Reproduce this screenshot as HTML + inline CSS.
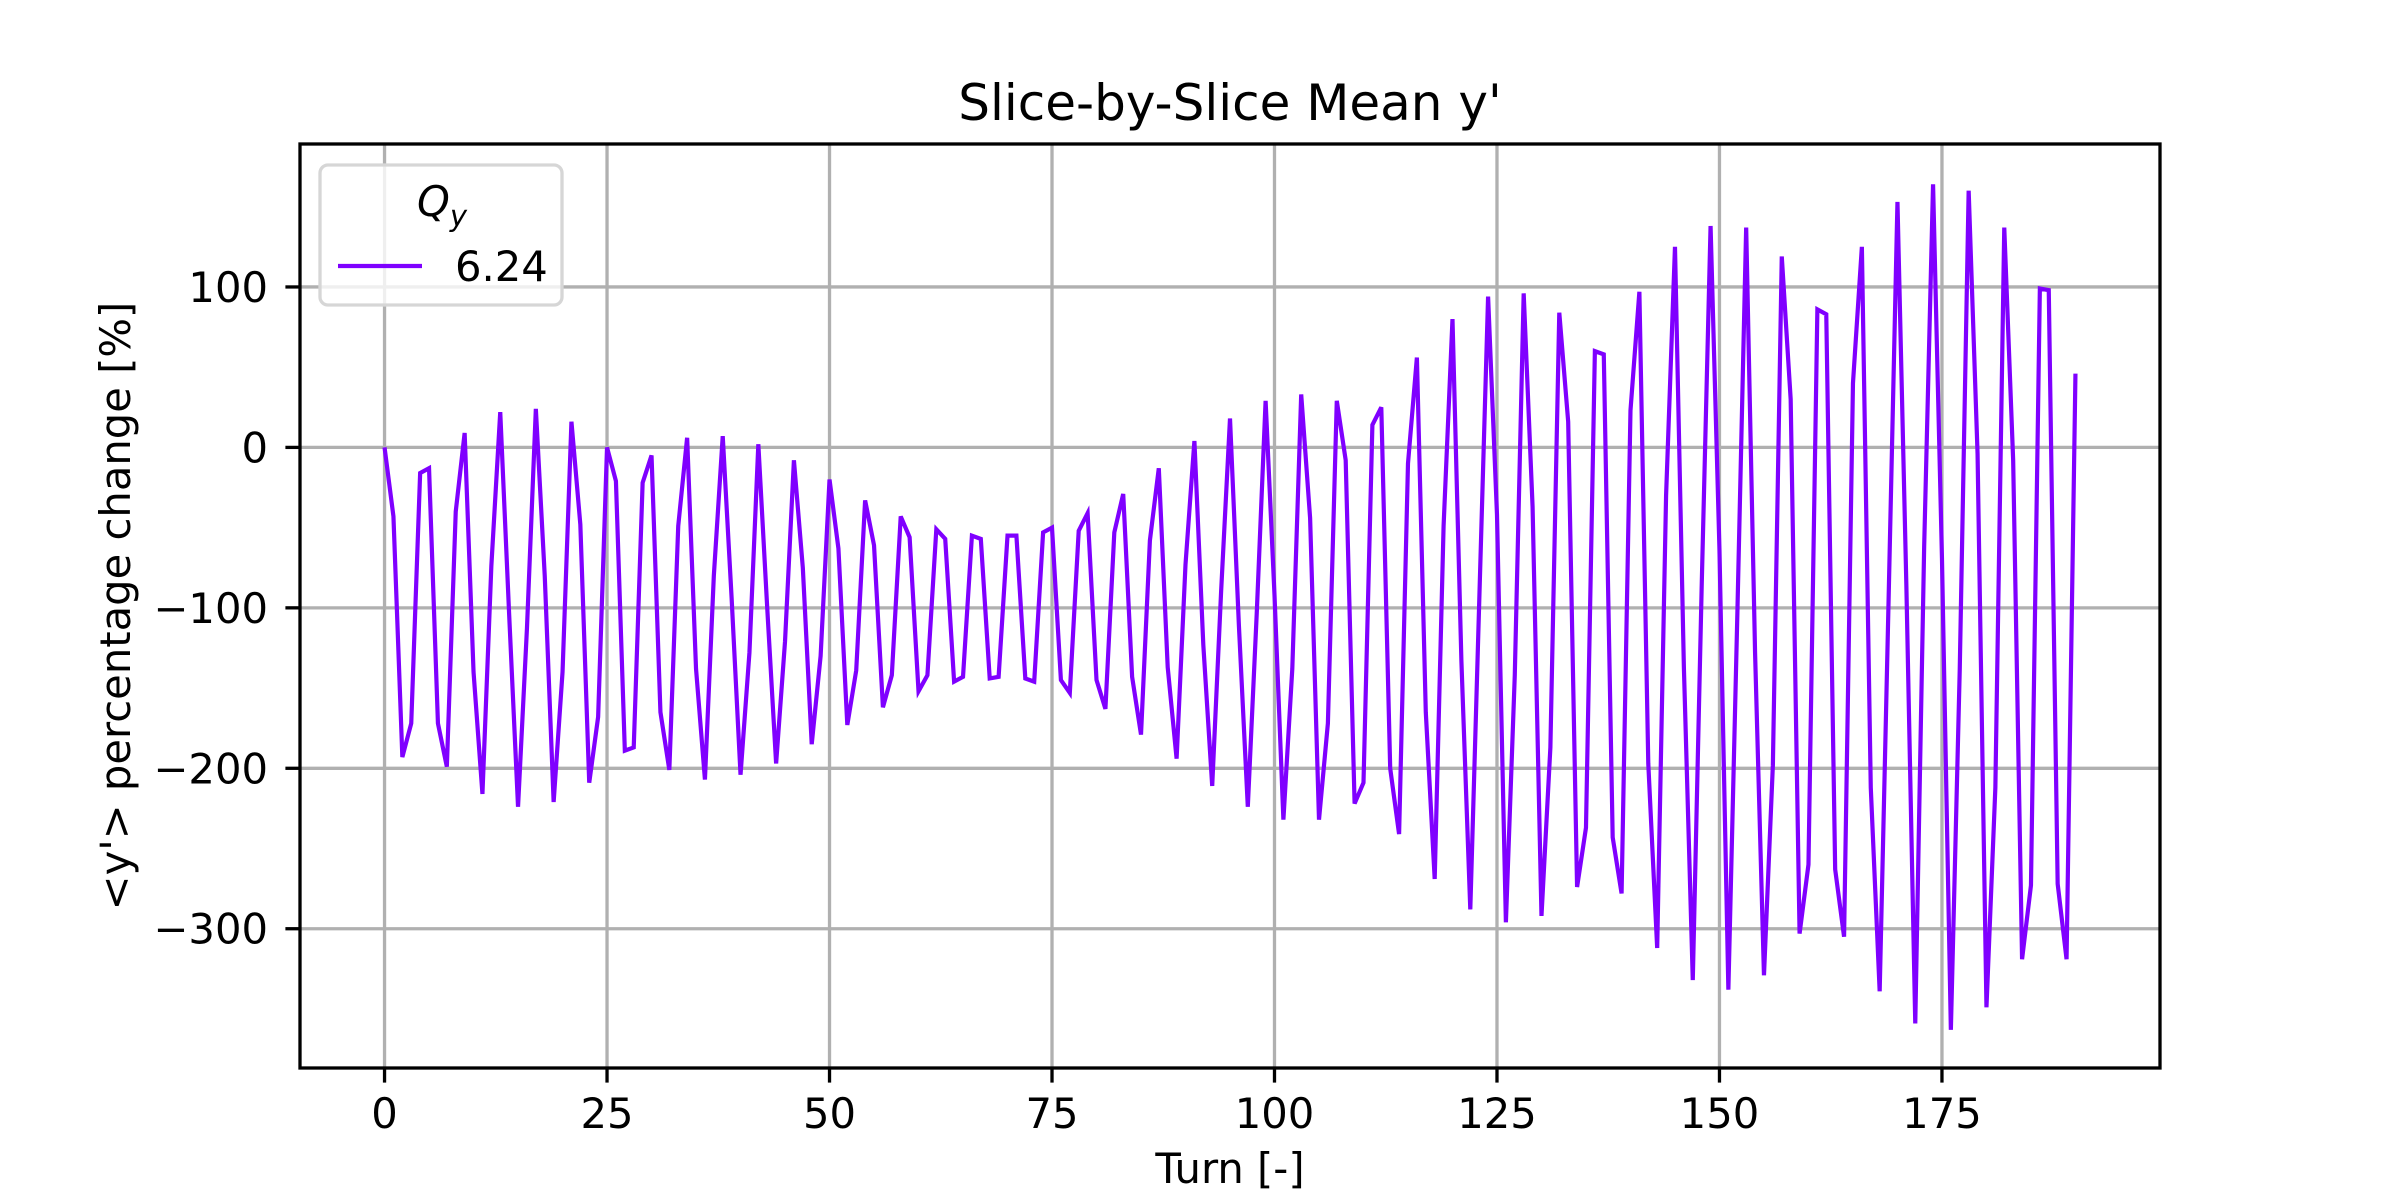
<!DOCTYPE html>
<html><head><meta charset="utf-8">
<style>
html,body{margin:0;padding:0;background:#fff;}
svg{display:block;font-family:"DejaVu Sans","Liberation Sans",sans-serif;}
</style></head>
<body>
<svg id="chart" width="2400" height="1200" viewBox="0 0 2400 1200" xmlns="http://www.w3.org/2000/svg">
<rect x="0" y="0" width="2400" height="1200" fill="#fff"/>
<g id="grid"></g>
<g id="series"></g>
<rect x="300" y="144" width="1860" height="924" fill="none" stroke="#000" stroke-width="3.3"/>
<g id="ticks"></g>
<text x="1230" y="120" font-size="50" text-anchor="middle">Slice-by-Slice Mean y'</text>
<text x="1230" y="1183" font-size="41.7" text-anchor="middle">Turn [-]</text>
<text x="130" y="606" font-size="41.7" text-anchor="middle" transform="rotate(-90 130 606)">&lt;y'&gt; percentage change [%]</text>
<g>
<rect x="320" y="165" width="242" height="140" rx="8" fill="#fff" fill-opacity="0.8" stroke="#d6d6d6" stroke-width="3.3"/>
<text x="442" y="216" font-size="41.7" text-anchor="middle" font-style="italic">Q<tspan font-size="29" dy="10">y</tspan></text>
<line x1="338" y1="266" x2="422" y2="266" stroke="#7f00ff" stroke-width="4.2"/>
<text x="455" y="281" font-size="41.7">6.24</text>
</g>
</svg>
<script>
const turns = [];
const values = [0,-43,-193,-172,-16,-13,-172,-199,-40,9,-140,-216,-74,22,-104,-224,-113,24,-80,-221,-140,16,-48,-209,-168,0,-21,-189,-187,-22,-5,-165,-201,-49,6,-138,-207,-80,7,-94,-204,-128,2,-100,-197,-121,-8,-75,-185,-130,-20,-63,-173,-139,-33,-61,-162,-142,-43,-56,-152,-142,-51,-57,-146,-143,-55,-57,-144,-143,-55,-55,-144,-146,-53,-50,-145,-153,-52,-41,-145,-163,-53,-29,-143,-179,-58,-13,-137,-194,-73,4,-123,-211,-90,18,-111,-224,-104,29,-92,-232,-138,33,-44,-232,-172,29,-8,-222,-209,14,25,-200,-241,-10,56,-165,-269,-49,80,-133,-288,-97,94,-42,-296,-142,96,-37,-292,-187,84,16,-274,-237,60,58,-243,-278,23,97,-197,-312,-30,125,-137,-332,-87,138,-64,-338,-106,137,-128,-329,-198,119,30,-303,-260,86,83,-263,-305,40,125,-212,-339,-96,153,-86,-359,-62,164,-69,-363,-138,160,-4,-349,-212,137,-8,-319,-273,99,98,-272,-319,46];
for (let i = 0; i < values.length; i++) turns.push(i);
const xTicks = [0,25,50,75,100,125,150,175];
const yTicks = [-300,-200,-100,0,100];
const yTickLabels = ["\u2212300","\u2212200","\u2212100","0","100"];

const L=300,R=2160,T=144,B=1068;
const xMin=-9.5,xMax=199.5,yMin=-386.8,yMax=189.1;
function sx(v){return L+(v-xMin)/(xMax-xMin)*(R-L);}
function sy(v){return B-(v-yMin)/(yMax-yMin)*(B-T);}
const NS="http://www.w3.org/2000/svg";
function mk(tag,attrs,parent){const e=document.createElementNS(NS,tag);for(const k in attrs)e.setAttribute(k,attrs[k]);parent.appendChild(e);return e;}
const grid=document.getElementById('grid'),ticks=document.getElementById('ticks'),series=document.getElementById('series');
xTicks.forEach(t=>{
  const x=sx(t);
  const g=mk('line',{x1:x,y1:T,x2:x,y2:B,stroke:'#b0b0b0','stroke-width':3.3},grid);
  
  
  const tk=mk('line',{x1:x,y1:B,x2:x,y2:B+14.6,stroke:'#000','stroke-width':3.3},ticks);
  
  
  const lb=mk('text',{x:x,y:B+60,'font-size':41.7,'text-anchor':'middle'},ticks);
  lb.textContent=String(t);
  
  
});
yTicks.forEach((t,i)=>{
  const y=sy(t);
  const g=mk('line',{x1:L,y1:y,x2:R,y2:y,stroke:'#b0b0b0','stroke-width':3.3},grid);
  
  
  const tk=mk('line',{x1:L-14.6,y1:y,x2:L,y2:y,stroke:'#000','stroke-width':3.3},ticks);
  
  
  const lb=mk('text',{x:268,y:y+15,'font-size':41.7,'text-anchor':'end'},ticks);
  lb.textContent=yTickLabels[i];
  
  
});
const pts=turns.map((t,i)=>sx(t).toFixed(2)+','+sy(values[i]).toFixed(2)).join(' ');
const pl=mk('polyline',{points:pts,fill:'none',stroke:'#7f00ff','stroke-width':4.2,'stroke-linejoin':'miter','stroke-miterlimit':4},series);


</script>
</body></html>
